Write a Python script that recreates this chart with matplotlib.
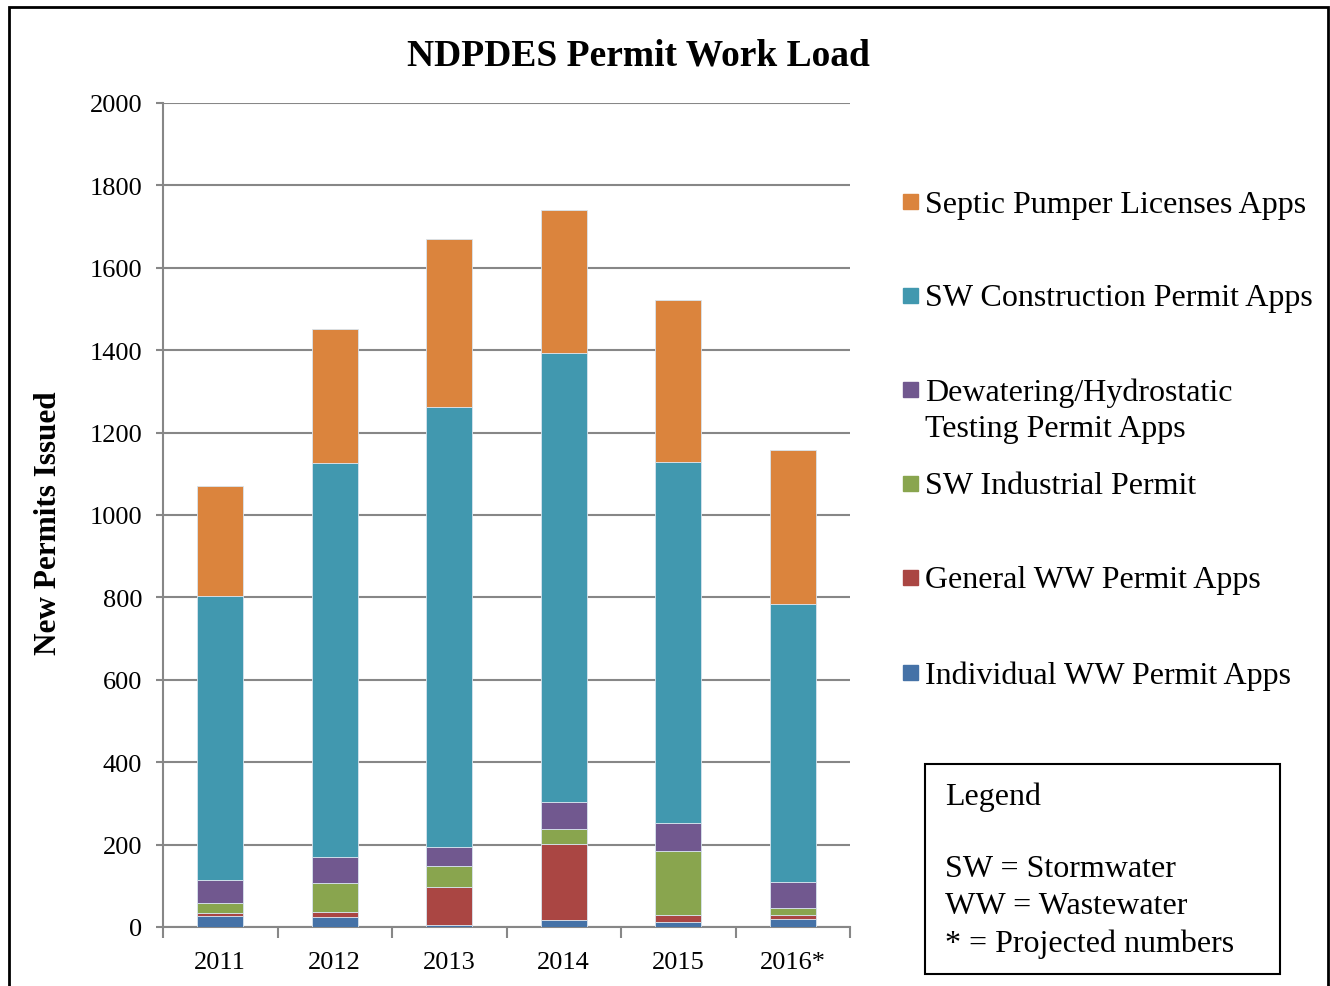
import matplotlib.pyplot as plt
from matplotlib.patches import Rectangle

plt.rcParams["font.family"] = ["Liberation Serif", "DejaVu Serif"]

# ── data ──────────────────────────────────────────────────────────────────────
years = ["2011", "2012", "2013", "2014", "2015", "2016*"]

individual_ww = [27, 24, 6, 16, 13, 19]
general_ww    = [6, 12, 91, 186, 17, 10]
sw_industrial = [25, 71, 52, 35, 154, 17]
dewatering    = [57, 63, 45, 67, 69, 64]
sw_constr     = [688, 957, 1069, 1088, 876, 674]
septic        = [268, 325, 408, 349, 394, 374]

series = [
    ("Individual WW Permit Apps", individual_ww, "#4572A7"),
    ("General WW Permit Apps", general_ww, "#AA4643"),
    ("SW Industrial Permit", sw_industrial, "#89A54E"),
    ("Dewatering/Hydrostatic\nTesting Permit Apps", dewatering, "#71588F"),
    ("SW Construction Permit Apps", sw_constr, "#4198AF"),
    ("Septic Pumper Licenses Apps", septic, "#DB843D"),
]

W, H = 1330, 987
fig = plt.figure(figsize=(W / 100, H / 100), dpi=100)
ax = fig.add_axes([163 / W, 1 - 928 / H, (850 - 163) / W, (928 - 104) / H])

grid_c = "#878787"
x = list(range(len(years)))
bottom = [0] * len(years)
for name, vals, col in series:
    ax.bar(x, vals, 0.4, bottom=bottom, color=col, edgecolor="#d8e4ee",
           linewidth=0.6, zorder=3)
    bottom = [b + v for b, v in zip(bottom, vals)]

ax.set_xlim(-0.5, len(years) - 0.5)
ax.set_ylim(0, 2000)
ax.set_yticks(range(0, 2001, 200))
ax.yaxis.grid(True, color=grid_c, linewidth=1.5, zorder=0)
ax.set_axisbelow(True)

# category boundaries as major ticks, labels on minor ticks
ax.set_xticks([i - 0.5 for i in range(len(years) + 1)])
ax.set_xticklabels([])
ax.set_xticks(x, minor=True)
ax.set_xticklabels(years, minor=True)
ax.tick_params(axis="x", which="major", length=8, width=1.5, color=grid_c)
ax.tick_params(axis="x", which="minor", length=0, labelsize=19, pad=17)
ax.tick_params(axis="y", length=5, width=1.5, color=grid_c, labelsize=19, pad=10)

for s in ["top", "right"]:
    ax.spines[s].set_visible(False)
for s in ["left", "bottom"]:
    ax.spines[s].set_color(grid_c)
    ax.spines[s].set_linewidth(1.5)

ax.set_ylabel("New Permits Issued", fontsize=22.5, fontweight="bold")
ax.yaxis.set_label_coords(-0.146, 0.4915)

fig.text(638 / W, 1 - 56 / H, "NDPDES Permit Work Load", ha="center",
         va="center", fontsize=27, fontweight="bold")

# series legend, top entry first
leg_y = [202, 296, 390, 484, 578, 673]
for (name, vals, col), yy in zip(series[::-1], leg_y):
    fig.add_artist(Rectangle((903 / W, 1 - (yy + 8) / H), 15 / W, 15 / H,
                             transform=fig.transFigure, color=col))
    for k, line in enumerate(name.split("\n")):
        fig.text(925 / W, 1 - (yy + 3 + 37 * k) / H, line, ha="left",
                 va="center", fontsize=23)

# notes box
fig.add_artist(Rectangle((925 / W, 1 - 975 / H), 355 / W, 210 / H,
                         transform=fig.transFigure, fill=False,
                         edgecolor="black", linewidth=1.5))
notes = [("Legend", 795), ("SW = Stormwater", 868), ("WW = Wastewater", 905),
         ("* = Projected numbers", 942)]
for txt, yy in notes:
    fig.text(945 / W, 1 - (yy + 2) / H, txt, ha="left", va="center", fontsize=23)

# outer chart frame
fig.add_artist(Rectangle((9 / W, -0.02), 1319 / W, 1.02 - 8 / H,
                         transform=fig.transFigure, fill=False,
                         edgecolor="black", linewidth=2))

fig.savefig("out.png", dpi=100)
